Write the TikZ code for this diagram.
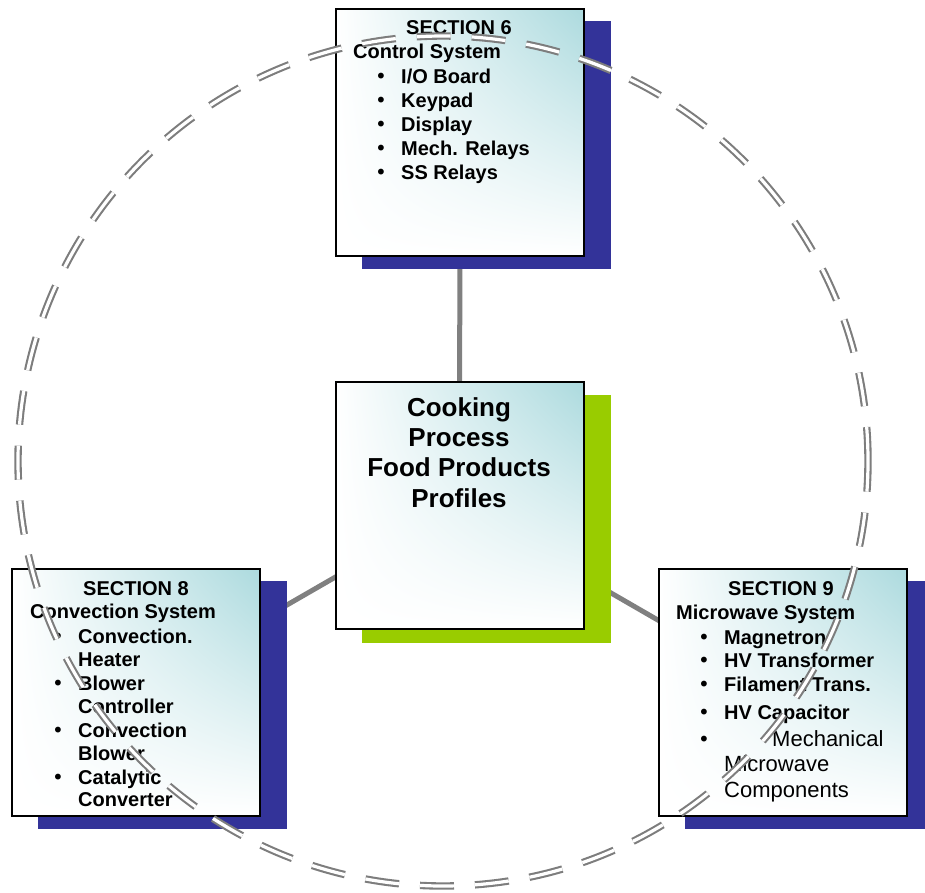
\documentclass[tikz,border=0pt]{standalone}
\usepackage{fontspec}
\setmainfont{Liberation Sans}
\newfontfamily\bulletfont{DejaVu Sans}
\usetikzlibrary{shadings}
\definecolor{navyshadow}{RGB}{51,51,153}
\definecolor{limeshadow}{RGB}{153,204,0}
\definecolor{boxtint}{RGB}{172,218,222}
\definecolor{conngray}{RGB}{128,128,128}
\definecolor{ringgray}{RGB}{125,125,125}
\newcommand{\bulletmark}{{\bulletfont\fontsize{20}{24}\selectfont •}}
\tikzset{
  panel/.style={draw=black, line width=2pt, shade, upper right=boxtint, upper left=white,
    lower left=white, lower right=white, minimum width=248pt, minimum height=247pt,
    inner sep=0pt},
  shadowbox/.style={inner sep=0pt, minimum width=249pt, minimum height=248pt},
  conn/.style={draw=conngray, line width=5pt},
  ring/.style={circle, draw=ringgray, double=white, double distance=3.2pt, line width=2.1pt,
    dash pattern=on 34pt off 21pt, minimum size=850pt, inner sep=0pt},
  lbl/.style={font=\fontsize{20}{24}\selectfont\bfseries, inner sep=0pt, anchor=base west},
  head/.style={font=\fontsize{20}{24}\selectfont\bfseries, inner sep=0pt, anchor=base},
  bul/.style={inner sep=0pt, anchor=base},
  big/.style={font=\fontsize{26}{30}\selectfont\bfseries, inner sep=0pt, anchor=base},
  plain/.style={font=\fontsize{22}{26}\selectfont, inner sep=0pt, anchor=base west}
}
\begin{document}
\begin{tikzpicture}[x=1pt,y=-1pt]
\useasboundingbox (0,0) rectangle (925,892);
% anchors for connectors
\coordinate (cc) at (459.5,505.5);
\coordinate (tc) at (460,132.5);
\coordinate (lc) at (136,692);
\coordinate (rc) at (782.5,692);
\draw[conn] (cc) -- (tc);
\draw[conn] (cc) -- (lc);
\draw[conn] (cc) -- (rc);
% shadows
\node[shadowbox, fill=navyshadow] (topsh) at (486,145) {};
\node[shadowbox, fill=limeshadow] (midsh) at (486.5,519) {};
\node[shadowbox, fill=navyshadow] (leftsh) at (162.5,705) {};
\node[shadowbox, fill=navyshadow, minimum width=240pt] (rightsh) at (805,705) {};
% boxes
\node[panel] (top) at (tc) {};
\node[panel] (mid) at (cc) {};
\node[panel] (left) at (lc) {};
\node[panel] (right) at (rc) {};
% top box text
\node[head] (s6) at (459,34) {SECTION 6};
\node[lbl] (s6t) at (353,58) {Control System};
\foreach \y/\t [count=\i] in {83/{I/O Board},107/Keypad,131/Display,155/{Mech. Relays},179/{SS Relays}}{
  \node[bul] (s6b\i) at (381,\y) {\bulletmark};
  \node[lbl] (s6i\i) at (401,\y) {\t};
}
% centre text
\node[big] (m1) at (459,416) {Cooking};
\node[big] (m2) at (459,446) {Process};
\node[big] (m3) at (459,476) {Food Products};
\node[big] (m4) at (459,507) {Profiles};
% left box text
\node[head] (s8) at (136,595) {SECTION 8};
\node[lbl] (s8t) at (30,618) {Convection System};
\foreach \y/\t [count=\i] in {643/Convection.,666/Heater,690/Blower,713/Controller,737/Convection,760/Blower,784/Catalytic,806/Converter}{
  \node[lbl] (s8i\i) at (78,\y) {\t};
}
\foreach \y [count=\i] in {643,690,737,784}{
  \node[bul] (s8b\i) at (58,\y) {\bulletmark};
}
% right box text
\node[head] (s9) at (781,595) {SECTION 9};
\node[lbl] (s9t) at (676,619) {Microwave System};
\foreach \y/\t [count=\i] in {644/Magnetron,667/{HV Transformer},691/{Filament Trans.},719/{HV Capacitor}}{
  \node[bul] (s9b\i) at (704,\y) {\bulletmark};
  \node[lbl] (s9i\i) at (724,\y) {\t};
}
\node[bul] (s9b5) at (704,746) {\bulletmark};
\node[plain] (s9m1) at (772,746) {Mechanical};
\node[plain] (s9m2) at (724,771) {Microwave};
\node[plain] (s9m3) at (724,797) {Components};
% dashed double ring on top
\node[ring] (ringnode) at (443,461) {};
\end{tikzpicture}
\end{document}
